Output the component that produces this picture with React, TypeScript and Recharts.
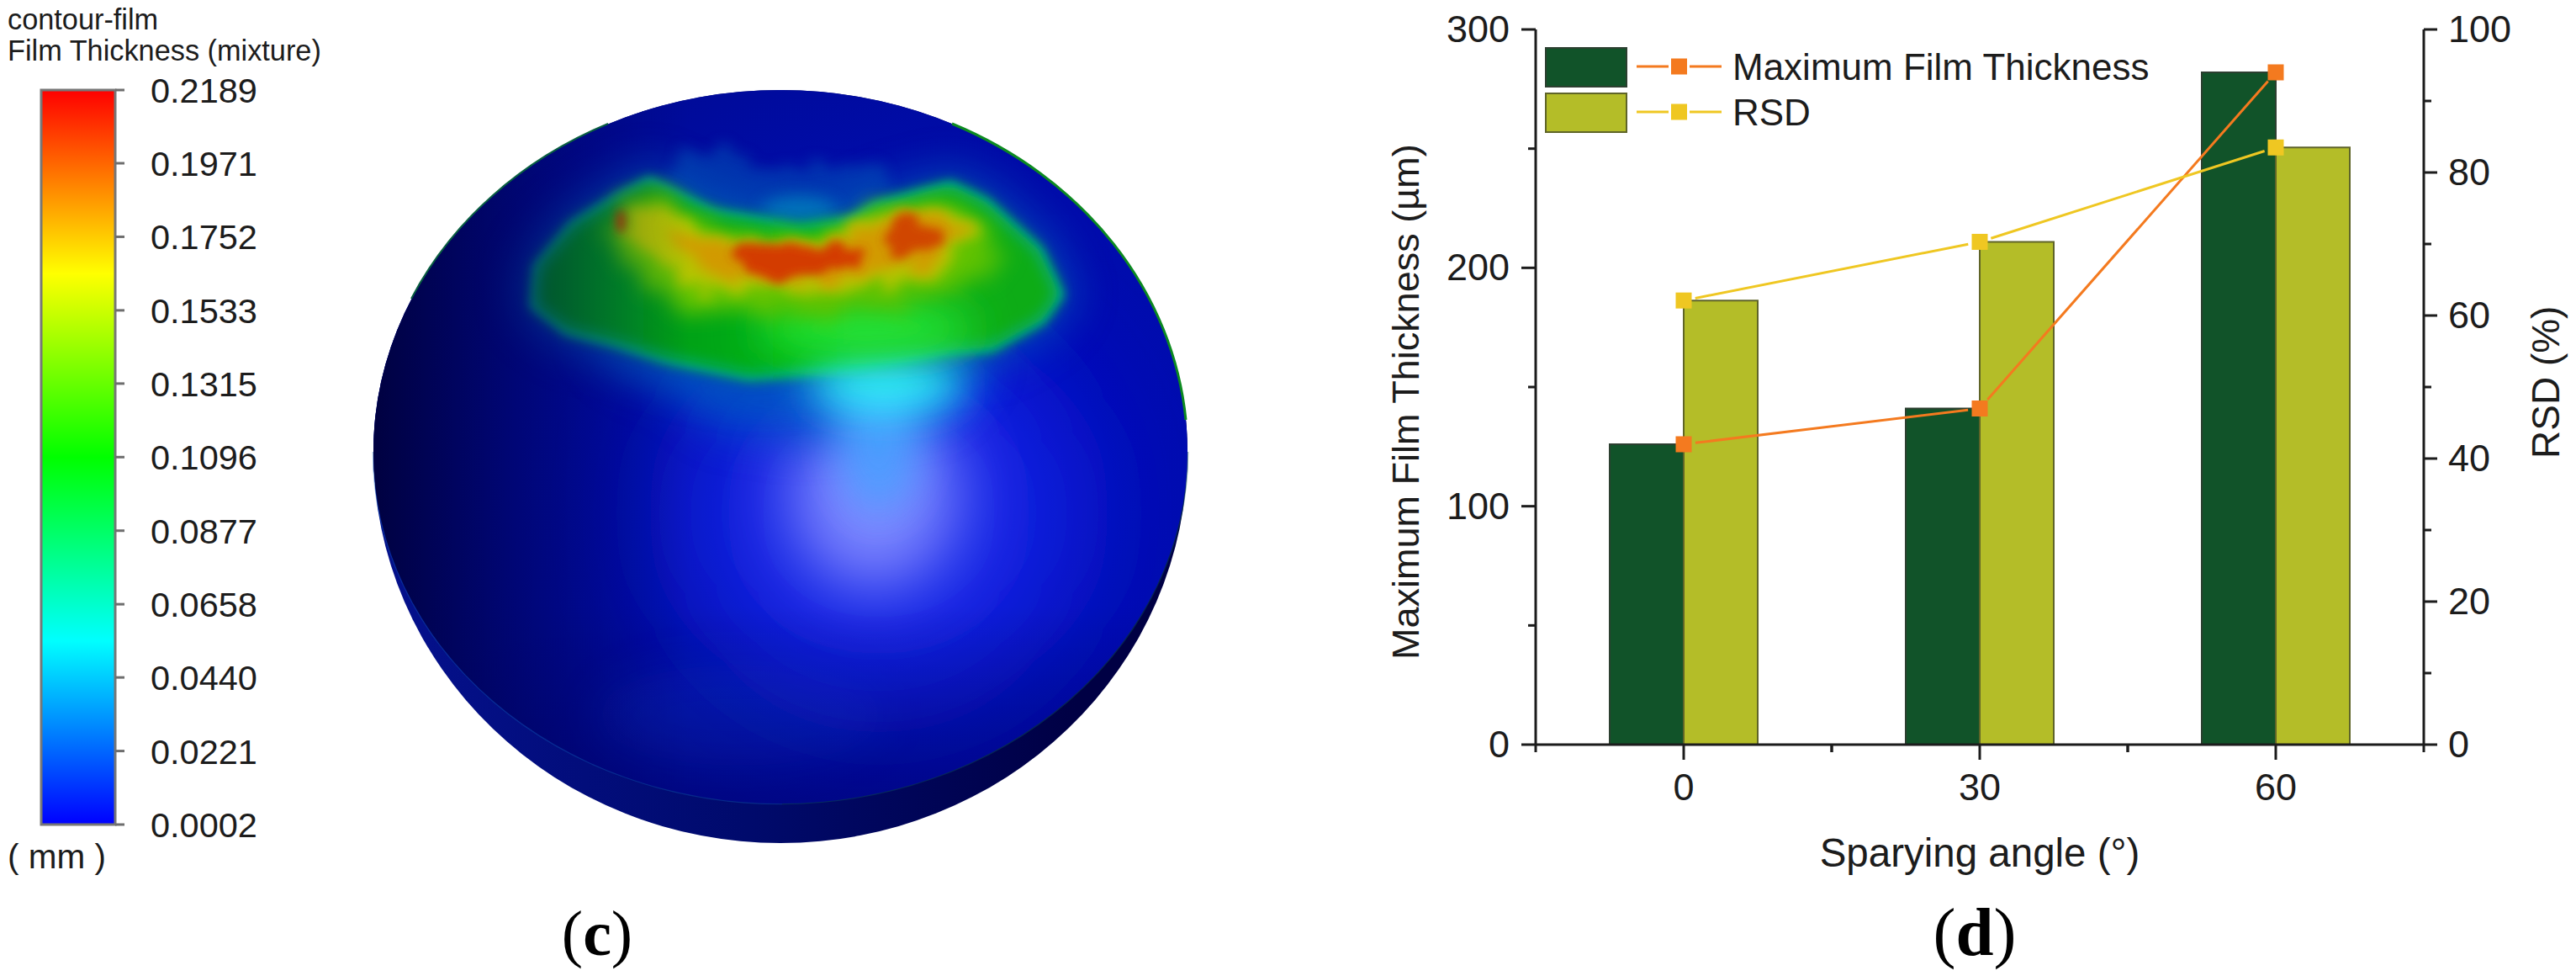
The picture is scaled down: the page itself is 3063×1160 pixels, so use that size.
import React from 'react';
import { ComposedChart, BarChart, Bar, Line, XAxis, YAxis, Legend } from 'recharts';

// ---- panel (d) data ----
const angles = ['0', '30', '60'];
const maxFilmThickness = [126, 141, 282];
const rsd = [62.1, 70.3, 83.5];
const leftTicks = [0, 50, 100, 150, 200, 250, 300];
const leftMajor = [0, 100, 200, 300];
const rightTicks = [0, 10, 20, 30, 40, 50, 60, 70, 80, 90, 100];
const rightMajor = [0, 20, 40, 60, 80, 100];
const angleData = angles.map((a, i) => ({ angle: a, thickness: maxFilmThickness[i], rsd: rsd[i] }));

// ---- panel (c) colour bar data ----
const contourLabels = ['0.2189', '0.1971', '0.1752', '0.1533', '0.1315', '0.1096', '0.0877', '0.0658', '0.0440', '0.0221', '0.0002'];
const contourTicks = contourLabels.map(Number);
const contourStops = ['#ff0000', '#ffff00', '#00ff00', '#00ffff', '#0000ff'];
const contourData = [{ name: 'film', value: 0.2189 }];

const SANS = '"Liberation Sans", Arial, sans-serif';
const SERIF = '"Liberation Serif", "Times New Roman", serif';
const INK = '#1c1c1c';
const ORANGE = '#F47A1F';
const YELLOW = '#EFC722';
const DARK = '#115329';
const OLIVE = '#B4BD28';

const PLOT_W = 1056;
const PLOT_H = 850;
const BAND = PLOT_W / angles.length;

// the original line stops short of each square marker
const gapDash = (vals: number[], max: number) => {
  const G = 14;
  const lens = vals.slice(1).map((v, i) => Math.hypot(BAND, ((v - vals[i]) / max) * PLOT_H));
  return [0, G, lens[0] - 2 * G, 2 * G, lens[1] - 2 * G, G].join(' ');
};

const LeftTick = ({ x, y, payload }: any) => {
  const major = leftMajor.includes(payload.value);
  return (
    <g>
      <line x1={x} x2={x - (major ? 17 : 9)} y1={y} y2={y} stroke={INK} strokeWidth={3} />
      {major && (
        <text x={x - 31} y={y + 15} textAnchor="end" fontFamily={SANS} fontSize={45} fill={INK}>
          {payload.value}
        </text>
      )}
    </g>
  );
};

const RightTick = ({ x, y, payload }: any) => {
  const major = rightMajor.includes(payload.value);
  return (
    <g>
      <line x1={x} x2={x + (major ? 16 : 9)} y1={y} y2={y} stroke={INK} strokeWidth={3} />
      {major && (
        <text x={x + 29} y={y + 15} fontFamily={SANS} fontSize={45} fill={INK}>
          {payload.value}
        </text>
      )}
    </g>
  );
};

const BottomTick = ({ x, y, payload }: any) => (
  <g>
    <line x1={x} x2={x} y1={y} y2={y + 18} stroke={INK} strokeWidth={3} />
    <line x1={x - BAND / 2} x2={x - BAND / 2} y1={y} y2={y + 9} stroke={INK} strokeWidth={3} />
    <line x1={x + BAND / 2} x2={x + BAND / 2} y1={y} y2={y + 9} stroke={INK} strokeWidth={3} />
    <text x={x} y={y + 66} textAnchor="middle" fontFamily={SANS} fontSize={45} fill={INK}>
      {payload.value}
    </text>
  </g>
);

const ContourTick = ({ x, y, payload }: any) => (
  <g>
    <line x1={x} x2={x + 11} y1={y} y2={y} stroke="#6e6e6e" strokeWidth={3} />
    <text x={x + 42} y={y + 15} fontFamily={SANS} fontSize={41.5} fill={INK}>
      {payload.value.toFixed(4)}
    </text>
  </g>
);

const Square = (color: string) => ({ cx, cy, index }: any) => (
  <rect key={index} x={cx - 9.5} y={cy - 9.5} width={19} height={19} fill={color} />
);

const sideTitle = (text: string, x: number, y: number, size: number) => () => (
  <text x={x} y={y} transform={`rotate(-90 ${x} ${y})`} fontFamily={SANS} fontSize={size} fill={INK}>
    {text}
  </text>
);

const bottomTitle = (text: string, x: number, y: number, size: number) => () => (
  <text x={x} y={y} textAnchor="middle" fontFamily={SANS} fontSize={size} fill={INK}>
    {text}
  </text>
);

const legendRows = [
  { name: 'Maximum Film Thickness', fill: DARK, edge: '#2c3f30', line: ORANGE },
  { name: 'RSD', fill: OLIVE, edge: '#5f6428', line: YELLOW },
];

const LegendBox = () => (
  <svg width={740} height={110} style={{ display: 'block' }}>
    {legendRows.map((r, i) => {
      const top = i * 54;
      const mid = top + 23;
      return (
        <g key={r.name}>
          <rect x={1} y={top + 1} width={96} height={46} fill={r.fill} stroke={r.edge} strokeWidth={2} />
          <line x1={109} x2={147} y1={mid} y2={mid} stroke={r.line} strokeWidth={3} />
          <line x1={172} x2={210} y1={mid} y2={mid} stroke={r.line} strokeWidth={3} />
          <rect x={150} y={mid - 9.5} width={19} height={19} fill={r.line} />
          <text x={223} y={mid + 16} fontFamily={SANS} fontSize={44} fill={INK}>
            {r.name}
          </text>
        </g>
      );
    })}
  </svg>
);

const patch = '772,215 849,253 947,270 1010,263 1046,243 1130,220 1172,240 1235,297 1260,350 1239,380 1179,413 1123,417 1018,437 891,447 793,427 730,407 674,393 635,363 639,317 681,267 737,233';
const warm0 = '745,240 779,232 835,265 905,280 982,278 1039,250 1130,236 1170,262 1190,310 1140,345 1060,365 980,375 900,375 820,370 760,330 720,285';
const warm = '745,250 779,245 835,275 905,290 982,287 1039,258 1130,248 1158,270 1125,320 1067,335 996,345 905,345 835,350 800,320 750,285';
const hot = '790,270 835,285 905,297 982,295 1045,262 1125,255 1145,272 1112,312 1060,322 996,332 905,332 845,325 810,300';
const red1 = '877,292 933,285 1032,297 1018,317 961,327 912,333 877,310';
const red2 = '1046,283 1081,253 1123,283 1109,297 1060,300';
const upper = '790,215 815,180 860,175 900,200 1000,195 1040,190 1060,225 1040,245 1010,263 947,270 849,253';
const lower = '690,390 730,440 800,470 850,510 950,525 1000,520 1120,500 1180,430 1100,410 900,440';

const blur = (id: string, s: number) => (
  <filter id={id} filterUnits="userSpaceOnUse" x={0} y={0} width={1600} height={1160}>
    <feGaussianBlur stdDeviation={s} />
  </filter>
);

const rough = (id: string, s: number, amp: number, seed: number) => (
  <filter id={id} filterUnits="userSpaceOnUse" x={0} y={0} width={1600} height={1160}>
    <feTurbulence type="fractalNoise" baseFrequency="0.035 0.06" numOctaves={2} seed={seed} result="n" />
    <feDisplacementMap in="SourceGraphic" in2="n" scale={amp} xChannelSelector="R" yChannelSelector="G" result="d" />
    <feGaussianBlur in="d" stdDeviation={s} />
  </filter>
);

const Sphere = () => (
  <svg width={1600} height={1160} style={{ position: 'absolute', left: 0, top: 0 }}>
    <defs>
      {blur('b6', 6)}
      {blur('b10', 10)}
      {blur('b16', 16)}
      {blur('b25', 25)}
      {blur('b40', 40)}
      {blur('b70', 70)}
      {rough('r5', 6, 38, 3)}
      {rough('r8', 8, 40, 5)}
      {rough('r12', 12, 50, 8)}
      <clipPath id="surf">
        <path d="M444,537 A484,430 0 0 1 1412,537 A484,418 0 0 1 444,537 Z" />
      </clipPath>
      <linearGradient id="shell" gradientUnits="userSpaceOnUse" x1={500} x2={1280} y1={0} y2={0}>
        <stop offset="0" stopColor="#04108a" />
        <stop offset="0.5" stopColor="#000a6c" />
        <stop offset="1" stopColor="#000044" />
      </linearGradient>
      <radialGradient id="base" gradientUnits="userSpaceOnUse" cx={1120} cy={560} r={680}>
        <stop offset="0" stopColor="#0008c4" />
        <stop offset="0.5" stopColor="#000cac" />
        <stop offset="1" stopColor="#000a8c" />
      </radialGradient>
      <linearGradient id="shade" gradientUnits="userSpaceOnUse" x1={444} x2={820} y1={0} y2={0}>
        <stop offset="0" stopColor="#000038" stopOpacity="0.9" />
        <stop offset="0.45" stopColor="#000048" stopOpacity="0.45" />
        <stop offset="1" stopColor="#000060" stopOpacity="0" />
      </linearGradient>
      <linearGradient id="shadeLow" gradientUnits="userSpaceOnUse" x1={0} x2={0} y1={720} y2={960}>
        <stop offset="0" stopColor="#000060" stopOpacity="0" />
        <stop offset="1" stopColor="#000060" stopOpacity="0.45" />
      </linearGradient>
      <linearGradient id="grn" gradientUnits="userSpaceOnUse" x1={640} x2={1200} y1={0} y2={0}>
        <stop offset="0" stopColor="#008a20" />
        <stop offset="0.55" stopColor="#06b410" />
        <stop offset="1" stopColor="#08ac18" />
      </linearGradient>
    </defs>

    <text x={9} y={35} fontFamily={SANS} fontSize={34.3} fill={INK}>contour-film</text>
    <text x={9} y={72} fontFamily={SANS} fontSize={34.3} fill={INK}>Film Thickness (mixture)</text>
    <text x={9} y={1032} fontFamily={SANS} fontSize={40.5} fill={INK}>( mm )</text>

    <path d="M444,537 A484,430 0 0 1 1412,537 A484,465 0 0 1 444,537 Z" fill="url(#shell)" />
    <path d="M444,537 A484,418 0 0 0 930,955" fill="none" stroke="#1058b0" strokeOpacity={0.4} strokeWidth={2.5} />
    <path d="M930,955 A484,418 0 0 0 1412,537" fill="none" stroke="#0a4a60" strokeOpacity={0.5} strokeWidth={2.5} />
    <g clipPath="url(#surf)">
      <rect x={440} y={100} width={980} height={870} fill="url(#base)" />
      <ellipse cx={880} cy={850} rx={170} ry={60} fill="#0a3ad0" opacity={0.35} filter="url(#b25)" />
      <ellipse cx={1045} cy={610} rx={230} ry={220} fill="#1428e8" filter="url(#b70)" />
      <ellipse cx={1040} cy={590} rx={100} ry={110} fill="#8088ff" filter="url(#b40)" />
      <polygon points={lower} fill="#0058c8" opacity={0.75} filter="url(#b25)" />
      <ellipse cx={1045} cy={520} rx={50} ry={90} fill="#4aa0ff" opacity={0.9} filter="url(#b25)" />
      <polygon points={upper} fill="#0058b8" opacity={0.5} filter="url(#r8)" />
      <ellipse cx={950} cy={250} rx={45} ry={16} fill="#0090c0" opacity={0.8} filter="url(#b10)" />
      <polygon points={patch} fill="#0060b8" stroke="#0060b8" strokeWidth={40} opacity={0.65} filter="url(#b25)" />
      <polygon points={patch} fill="#00a8a8" stroke="#00a8a8" strokeWidth={10} filter="url(#b6)" />
      <polygon points={patch} fill="url(#grn)" filter="url(#b10)" />
      <ellipse cx={1055} cy={458} rx={95} ry={30} fill="#30f8ff" filter="url(#b25)" />
      <ellipse cx={1030} cy={390} rx={130} ry={30} fill="#28e838" filter="url(#b25)" />
      <polygon points={warm0} fill="#62c200" filter="url(#r12)" />
      <polygon points={warm} fill="#b4c400" filter="url(#r8)" />
      <polygon points={hot} fill="#d29a00" filter="url(#r8)" />
      <polygon points={red1} fill="#d43000" opacity={0.9} filter="url(#r5)" />
      <polygon points={red2} fill="#d03c00" opacity={0.9} filter="url(#r5)" />
      <ellipse cx={738} cy={263} rx={5} ry={14} fill="#c83000" filter="url(#b6)" />
      <rect x={440} y={100} width={400} height={870} fill="url(#shade)" />
      <rect x={440} y={720} width={980} height={250} fill="url(#shadeLow)" />
    </g>
    <path d="M1132,147 A484,430 0 0 1 1410,499" fill="none" stroke="#0c8a20" strokeWidth={3} />
    <path d="M723,147 A484,430 0 0 0 489,355" fill="none" stroke="#0a6040" strokeWidth={2} />

    <text x={710} y={1135} textAnchor="middle" fontFamily={SERIF} fontSize={76} fill="#000">
      <tspan>(</tspan><tspan fontWeight="bold">c</tspan><tspan>)</tspan>
    </text>
  </svg>
);

export default function App() {
  return (
    <div style={{ position: 'absolute', left: 0, top: 0, width: 3063, height: 1160, background: '#fff', overflow: 'hidden' }}>
      <Sphere />

      <div style={{ position: 'absolute', left: 0, top: 0 }}>
        <BarChart
          width={400}
          height={1160}
          data={contourData}
          margin={{ top: 107, bottom: 180, left: 49, right: 0 }}
          barCategoryGap={0}
        >
          <defs>
            <linearGradient id="rainbow" x1="0" y1="0" x2="0" y2="1">
              {contourStops.map((c, i) => (
                <stop key={c} offset={i / (contourStops.length - 1)} stopColor={c} />
              ))}
            </linearGradient>
          </defs>
          <XAxis dataKey="name" hide />
          <YAxis
            orientation="right"
            width={263}
            domain={[0.0002, 0.2189]}
            ticks={contourTicks}
            interval={0}
            tick={<ContourTick />}
            tickLine={false}
            axisLine={false}
            tickSize={0}
            tickMargin={0}
          />
          <Bar dataKey="value" fill="url(#rainbow)" stroke="#777" strokeWidth={3} isAnimationActive={false} />
        </BarChart>
      </div>

      <div style={{ position: 'absolute', left: 1500, top: 0 }}>
        <ComposedChart
          width={1563}
          height={1160}
          data={angleData}
          margin={{ top: 35, bottom: 155, left: 200, right: 61 }}
          barCategoryGap="25%"
          barGap={0}
        >
          <XAxis
            dataKey="angle"
            height={120}
            interval={0}
            tick={<BottomTick />}
            tickLine={false}
            tickSize={0}
            tickMargin={0}
            axisLine={{ stroke: INK, strokeWidth: 3 }}
            label={{ content: bottomTitle('Sparying angle (°)', 854, 1030, 47.5) }}
          />
          <XAxis xAxisId="top" orientation="top" dataKey="angle" height={0} tick={false} tickLine={false} axisLine={{ stroke: INK, strokeWidth: 3 }} />
          <YAxis
            yAxisId="left"
            width={126}
            domain={[0, 300]}
            ticks={leftTicks}
            interval={0}
            tick={<LeftTick />}
            tickLine={false}
            tickSize={0}
            tickMargin={0}
            axisLine={{ stroke: INK, strokeWidth: 3 }}
            label={{ content: sideTitle('Maximum Film Thickness (µm)', 187, 784, 45) }}
          />
          <YAxis
            yAxisId="right"
            orientation="right"
            width={120}
            domain={[0, 100]}
            ticks={rightTicks}
            interval={0}
            tick={<RightTick />}
            tickLine={false}
            tickSize={0}
            tickMargin={0}
            axisLine={{ stroke: INK, strokeWidth: 3 }}
            label={{ content: sideTitle('RSD (%)', 1543, 545, 46) }}
          />
          <Bar yAxisId="left" dataKey="thickness" name="Maximum Film Thickness" fill={DARK} stroke="#2c3f30" strokeWidth={2} isAnimationActive={false} />
          <Bar yAxisId="right" dataKey="rsd" name="RSD" fill={OLIVE} stroke="#5f6428" strokeWidth={2} isAnimationActive={false} />
          <Line
            yAxisId="left"
            dataKey="thickness"
            legendType="none"
            stroke={ORANGE}
            strokeWidth={3}
            strokeDasharray={gapDash(maxFilmThickness, 300)}
            dot={Square(ORANGE)}
            isAnimationActive={false}
          />
          <Line
            yAxisId="right"
            dataKey="rsd"
            legendType="none"
            stroke={YELLOW}
            strokeWidth={3}
            strokeDasharray={gapDash(rsd, 100)}
            dot={Square(YELLOW)}
            isAnimationActive={false}
          />
          <Legend
            layout="horizontal"
            align="center"
            verticalAlign="middle"
            content={<LegendBox />}
            wrapperStyle={{ position: 'absolute', left: 337, top: 56, width: 740, height: 110 }}
          />
        </ComposedChart>
      </div>

      <svg width={300} height={120} style={{ position: 'absolute', left: 2200, top: 1040 }}>
        <text x={148} y={95} textAnchor="middle" fontFamily={SERIF} fontSize={81} fill="#000">
          <tspan>(</tspan><tspan fontWeight="bold">d</tspan><tspan>)</tspan>
        </text>
      </svg>
    </div>
  );
}
